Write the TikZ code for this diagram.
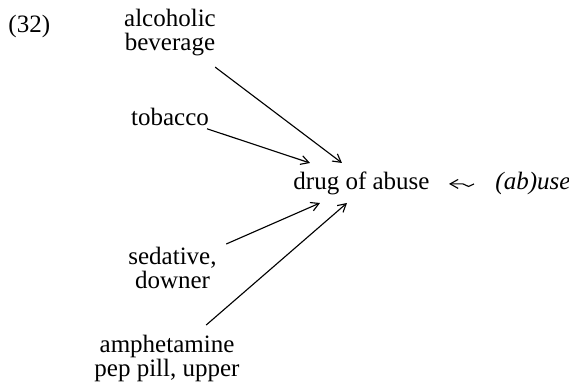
\documentclass[tikz,border=0pt]{standalone}
\usepackage{fontspec}
\setmainfont{Liberation Serif}
\usetikzlibrary{arrows.meta,decorations.pathmorphing}

\begin{document}
\begin{tikzpicture}[x=0.4pt,y=-0.4pt,
  term/.style={inner sep=0pt,align=center,font=\fontsize{10}{9.6}\selectfont},
  arr/.style={line width=0.45pt,-{Straight Barb[length=3.2pt,width=3.6pt]}},
  squig/.style={line width=0.45pt,-{Straight Barb[length=3.2pt,width=3.6pt]},
    decorate,decoration={snake,amplitude=1pt,segment length=7pt,post length=3.6pt}}]
\useasboundingbox (0,0) rectangle (569,390);
\node[term,anchor=base west] (num) at (8,33) {(32)};
\node[term] (alc) at (170,33) {alcoholic\\beverage};
\node[term] (tob) at (170,116.5) {tobacco};
\node[term] (sed) at (172.5,267.5) {sedative,\\downer};
\node[term] (amp) at (167,359) {amphetamine\\pep pill, upper};
\node[term,anchor=base] (drug) at (361.5,190) {drug of abuse};
\node[term,anchor=base west] (use) at (495,190) {\textit{(ab)use}};
% arrow ends round the head term
\coordinate (tipalc) at (342,163);
\coordinate (tiptob) at (310,163);
\coordinate (tipsed) at (320,203);
\coordinate (tipamp) at (347,203);
\draw[arr,shorten <=6.8pt] (alc) -- (tipalc);
\draw[arr,shorten <=3.8pt] (tob) -- (tiptob);
\draw[arr,shorten <=4pt] (sed) -- (tipsed);
\draw[arr,shorten <=6.2pt] (amp) -- (tipamp);
\draw[squig] ([xshift=-8.4pt]use.west) -- ([xshift=7.6pt]drug.east);
\end{tikzpicture}
\end{document}
